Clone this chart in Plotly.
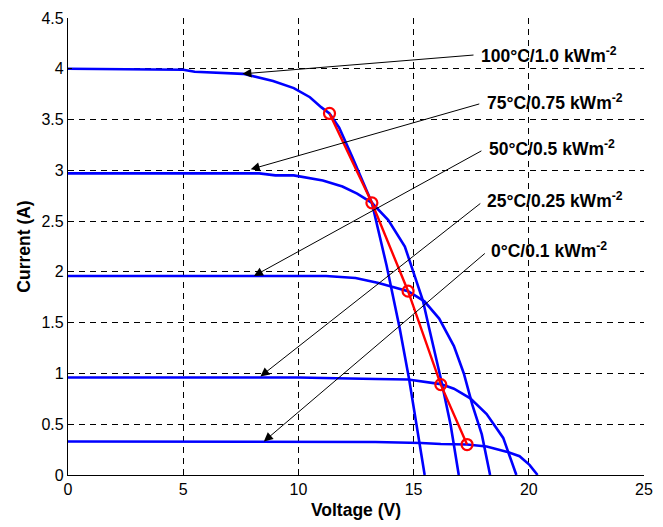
import plotly.graph_objects as go

# I-V curves (Voltage V, Current A)
v100 = [0, 5.0, 5.5, 7.0, 7.6, 8.9, 9.8, 10.5, 11.0, 11.35, 11.77, 12.34, 13.19, 13.83, 14.4, 14.8, 15.48]
i100 = [4.0, 3.99, 3.97, 3.96, 3.95, 3.88, 3.81, 3.72, 3.62, 3.56, 3.42, 3.13, 2.68, 2.06, 1.44, 0.95, 0.0]

v75 = [0, 8.3, 9.0, 9.8, 11.06, 11.91, 12.55, 13.19, 13.9, 14.62, 14.9, 15.4, 15.68, 16.18, 16.61, 16.96]
i75 = [2.97, 2.97, 2.95, 2.95, 2.90, 2.84, 2.77, 2.68, 2.51, 2.25, 2.06, 1.72, 1.44, 0.95, 0.49, 0.0]

v50 = [0, 10.0, 11.2, 12.48, 13.48, 14.76, 15.47, 16.11, 16.75, 17.18, 17.55, 17.96, 18.32]
i50 = [1.96, 1.96, 1.96, 1.94, 1.89, 1.81, 1.71, 1.54, 1.27, 1.0, 0.69, 0.40, 0.0]

v25 = [0, 10.0, 13.34, 14.76, 16.18, 16.75, 17.46, 18.17, 18.89, 19.1, 19.46]
i25 = [0.96, 0.96, 0.945, 0.94, 0.895, 0.85, 0.755, 0.60, 0.365, 0.23, 0.0]

v0 = [0, 10.0, 13.34, 15.33, 16.18, 17.32, 18.17, 19.03, 19.6, 20.03, 20.38]
i0 = [0.33, 0.33, 0.325, 0.315, 0.305, 0.30, 0.28, 0.23, 0.185, 0.10, 0.0]

# Maximum power points
vmpp = [11.35, 13.19, 14.76, 16.18, 17.32]
impp = [3.56, 2.68, 1.81, 0.89, 0.30]

# Labels (text box left/middle) and the curve point each arrow points to
labels = ["100°C/1.0 kWm<sup>-2</sup>", "75°C/0.75 kWm<sup>-2</sup>", "50°C/0.5 kWm<sup>-2</sup>",
          "25°C/0.25 kWm<sup>-2</sup>", "0°C/0.1 kWm<sup>-2</sup>"]
label_x = [17.86, 18.1, 18.17, 18.1, 18.29]
label_y = [4.14, 3.67, 3.22, 2.71, 2.22]
tip_x = [7.57, 7.93, 8.07, 8.35, 8.5]
tip_y = [3.95, 3.01, 1.96, 0.97, 0.33]

xticks = [0, 5, 10, 15, 20, 25]
yticks = [0, 0.5, 1, 1.5, 2, 2.5, 3, 3.5, 4, 4.5]

FONT = "Arial, Liberation Sans, sans-serif"
fig = go.Figure()
for vx, iy in [(v100, i100), (v75, i75), (v50, i50), (v25, i25), (v0, i0)]:
    fig.add_trace(go.Scatter(x=vx, y=iy, mode="lines", line=dict(color="#0000FF", width=2.6),
                             showlegend=False, hoverinfo="skip"))
fig.add_trace(go.Scatter(x=vmpp, y=impp, mode="lines+markers",
                         line=dict(color="#FF0000", width=2.4),
                         marker=dict(symbol="circle-open", size=11, color="#FF0000", line=dict(width=2.2)),
                         showlegend=False))

for k in range(len(labels)):
    fig.add_annotation(x=tip_x[k], y=tip_y[k], ax=label_x[k], ay=label_y[k], xref="x", yref="y",
                       axref="x", ayref="y", text="<b>" + labels[k] + "</b>", showarrow=True,
                       arrowhead=2, arrowsize=1.8, arrowwidth=1, arrowcolor="black", startstandoff=6,
                       xanchor="left", yanchor="middle",
                       font=dict(family=FONT, size=17.5, color="black"))

axis_common = dict(showgrid=True, gridcolor="black", gridwidth=1, griddash="6px,5px",
                   showline=True, linecolor="black", linewidth=1.2, mirror=False,
                   ticks="inside", ticklen=4, tickcolor="black", zeroline=False,
                   tickfont=dict(family=FONT, size=16, color="black"))
fig.update_xaxes(range=[0, 25], tickvals=xticks, ticktext=[str(t) for t in xticks],
                 title=dict(text="<b>Voltage (V)</b>", font=dict(family=FONT, size=17.5, color="black"), standoff=6),
                 **axis_common)
fig.update_yaxes(range=[0, 4.5], tickvals=yticks, ticktext=[("%g" % t) for t in yticks],
                 title=dict(text="<b>Current (A)</b>", font=dict(family=FONT, size=17.5, color="black"), standoff=6),
                 **axis_common)
fig.update_layout(width=663, height=527, margin=dict(l=68, r=10, t=17, b=50),
                  plot_bgcolor="white", paper_bgcolor="white", showlegend=False)
fig.write_html("out.html")
